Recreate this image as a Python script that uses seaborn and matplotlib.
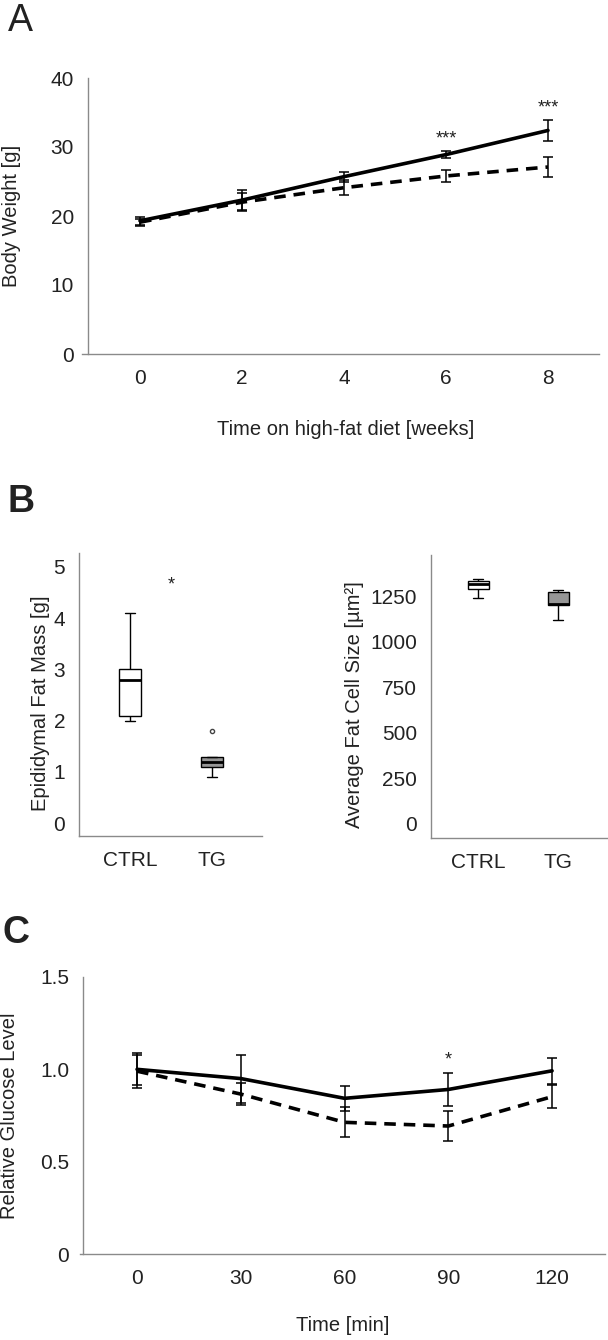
import numpy as np
import pandas as pd
import matplotlib
matplotlib.use("Agg")
import matplotlib.pyplot as plt
import seaborn as sns

# ---------------- data ----------------
weeks = [0, 2, 4, 6, 8]
bw_ctrl = [19.3, 22.3, 25.7, 28.9, 32.4]
bw_ctrl_err = [0.6, 1.4, 0.7, 0.55, 1.5]
bw_tg = [19.1, 22.0, 24.1, 25.8, 27.1]
bw_tg_err = [0.5, 1.3, 1.1, 0.8, 1.5]
bw_sig = ["", "", "", "***", "***"]

groups = ["CTRL", "TG"]
fat_mass_ctrl = [2.0, 2.1, 2.8, 3.0, 4.1]
fat_mass_tg = [0.9, 1.1, 1.2, 1.3, 1.8]
fat_mass_sig = "*"
cell_size_ctrl = [1240, 1290, 1315, 1335, 1345]
cell_size_tg = [1120, 1200, 1205, 1270, 1285]

minutes = [0, 30, 60, 90, 120]
glu_ctrl = [1.0, 0.95, 0.843, 0.891, 0.992]
glu_ctrl_err = [0.087, 0.13, 0.068, 0.09, 0.07]
glu_tg = [0.99, 0.866, 0.713, 0.693, 0.852]
glu_tg_err = [0.09, 0.06, 0.082, 0.082, 0.064]
glu_sig = ["", "", "", "*", ""]

# ---------------- style ----------------
sns.set_style("white")
plt.rcParams["font.family"] = ["Liberation Sans", "DejaVu Sans"]
TXT = "#222222"
SPINE = "#8a8a8a"
plt.rcParams["text.color"] = TXT
plt.rcParams["axes.labelcolor"] = TXT
plt.rcParams["xtick.color"] = SPINE
plt.rcParams["ytick.color"] = SPINE
plt.rcParams["xtick.labelcolor"] = TXT
plt.rcParams["ytick.labelcolor"] = TXT

W, H = 608, 1340
fig = plt.figure(figsize=(W / 100, H / 100), dpi=100)


def px_axes(l, r, top, bottom):
    return fig.add_axes([l / W, 1 - bottom / H, (r - l) / W, (bottom - top) / H])


def style_axes(ax, xticks=False):
    for s in ["top", "right"]:
        ax.spines[s].set_visible(False)
    for s in ["left", "bottom"]:
        ax.spines[s].set_color(SPINE)
        ax.spines[s].set_linewidth(1.0)
    ax.tick_params(axis="y", direction="out", length=4, width=1, pad=6, labelsize=15)
    if xticks:
        ax.tick_params(axis="x", direction="out", length=3, width=1, pad=8, labelsize=15)
    else:
        ax.tick_params(axis="x", length=0, pad=11, labelsize=15)
    ax.grid(False)


def line_panel(ax, x, y1, e1, y2, e2, sig, sig_off):
    df = pd.DataFrame({
        "x": list(x) * 2,
        "y": list(y1) + list(y2),
        "grp": ["CTRL"] * len(x) + ["TG"] * len(x),
    })
    sns.lineplot(data=df, x="x", y="y", hue="grp", style="grp",
                 palette={"CTRL": "black", "TG": "black"},
                 dashes={"CTRL": "", "TG": (3.2, 2.2)},
                 linewidth=2.6, legend=False, ax=ax, zorder=3)
    ax.errorbar(x, y2, yerr=e2, fmt="none", ecolor="black", elinewidth=1.1,
                capsize=3.5, capthick=1.1, zorder=4)
    ax.errorbar(x, y1, yerr=e1, fmt="none", ecolor="black", elinewidth=1.1,
                capsize=3.5, capthick=1.1, zorder=4)
    for xi, yi, ei, s in zip(x, y1, e1, sig):
        if s:
            ax.text(xi, yi + ei + sig_off, s, ha="center", va="center",
                    fontsize=13, color=TXT)


# ---------------- Panel A ----------------
axA = px_axes(82, 599, 78, 354)
line_panel(axA, weeks, bw_ctrl, bw_ctrl_err, bw_tg, bw_tg_err, bw_sig, 1.7)
axA.set_xlim(-1.137, 9.0)
axA.set_ylim(0, 40)
axA.set_xticks(weeks)
axA.set_yticks([0, 10, 20, 30, 40])
style_axes(axA)
axA.spines["left"].set_position(("data", -1.02))
axA.set_xlabel("Time on high-fat diet [weeks]", fontsize=14.5)
axA.set_ylabel("Body Weight [g]", fontsize=14.5)
axA.xaxis.set_label_coords(0.51, -0.24)
axA.yaxis.set_label_coords(-0.118, 0.5)
fig.text(8 / W, 1 - 3 / H, "A", fontsize=27, va="top", ha="left", color=TXT)

# ---------------- Panel B ----------------
box_kw = dict(width=0.26, linecolor="black", linewidth=1.0,
              medianprops={"linewidth": 2.0, "color": "black"},
              flierprops={"marker": "o", "markersize": 3,
                          "markerfacecolor": "none", "markeredgecolor": "#444444"},
              legend=False)
pal = {"CTRL": "white", "TG": "#969696"}

dfB1 = pd.DataFrame({"group": ["CTRL"] * len(fat_mass_ctrl) + ["TG"] * len(fat_mass_tg),
                     "value": fat_mass_ctrl + fat_mass_tg})
axB1 = px_axes(79, 262, 553, 836)
sns.boxplot(data=dfB1, x="group", y="value", hue="group", palette=pal,
            order=groups, hue_order=groups, ax=axB1, **box_kw)
axB1.set_xlim(-0.62, 1.61)
axB1.set_ylim(-0.25, 5.27)
axB1.set_yticks([0, 1, 2, 3, 4, 5])
style_axes(axB1, xticks=True)
axB1.set_xlabel("")
axB1.set_ylabel("Epididymal Fat Mass [g]", fontsize=14.5)
axB1.yaxis.set_label_coords(-0.16, 0.47)
axB1.text(0.5, 4.65, fat_mass_sig, ha="center", va="center", fontsize=13, color=TXT)

dfB2 = pd.DataFrame({"group": ["CTRL"] * len(cell_size_ctrl) + ["TG"] * len(cell_size_tg),
                     "value": cell_size_ctrl + cell_size_tg})
axB2 = px_axes(431, 607, 555, 838)
sns.boxplot(data=dfB2, x="group", y="value", hue="group", palette=pal,
            order=groups, hue_order=groups, ax=axB2, **box_kw)
axB2.set_xlim(-0.59, 1.61)
axB2.set_ylim(-77, 1475)
axB2.set_yticks([0, 250, 500, 750, 1000, 1250])
style_axes(axB2, xticks=True)
axB2.set_xlabel("")
axB2.set_ylabel("Average Fat Cell Size [µm²]", fontsize=14.5)
axB2.yaxis.set_label_coords(-0.38, 0.47)
fig.text(8 / W, 1 - 484 / H, "B", fontsize=27, fontweight="bold", va="top", ha="left", color=TXT)

# ---------------- Panel C ----------------
axC = px_axes(80, 605, 977, 1254)
line_panel(axC, minutes, glu_ctrl, glu_ctrl_err, glu_tg, glu_tg_err, glu_sig, 0.07)
axC.set_xlim(-16.5, 135.3)
axC.set_ylim(0, 1.5)
axC.set_xticks(minutes)
axC.set_yticks([0, 0.5, 1.0, 1.5])
axC.set_yticklabels(["0", "0.5", "1.0", "1.5"])
style_axes(axC)
axC.spines["left"].set_position(("data", -15.6))
axC.set_xlabel("Time [min]", fontsize=14.5)
axC.set_ylabel("Relative Glucose Level", fontsize=14.5)
axC.xaxis.set_label_coords(0.5, -0.225)
axC.yaxis.set_label_coords(-0.116, 0.5)
fig.text(2 / W, 1 - 915 / H, "C", fontsize=27, fontweight="bold", va="top", ha="left", color=TXT)

fig.savefig("out.png", dpi=100)
